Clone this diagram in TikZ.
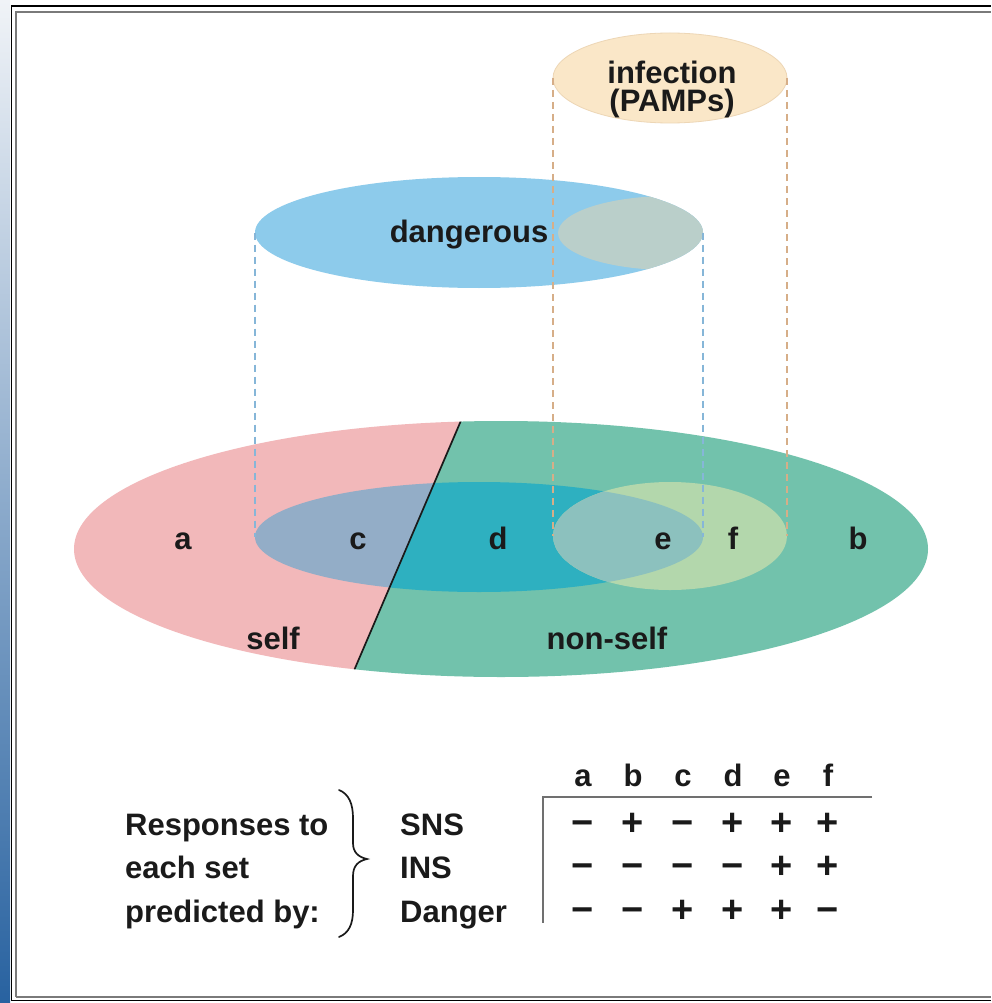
\documentclass[tikz,border=0pt]{standalone}
\usepackage{fontspec}
\setmainfont{Liberation Sans}

\definecolor{ink}{HTML}{1A1A1A}
\definecolor{bandtop}{HTML}{F0F3F7}
\definecolor{bandmid}{HTML}{B3C0D3}
\definecolor{bandbot}{HTML}{2862A0}
\definecolor{framegray}{HTML}{7A7A7A}
\definecolor{selfpink}{HTML}{F2B8BA}
\definecolor{nonselfgreen}{HTML}{72C2AC}
\definecolor{dangerself}{HTML}{93ADC7}
\definecolor{dangernonself}{HTML}{2EB0C0}
\definecolor{infectnonself}{HTML}{B3D7AC}
\definecolor{infectdanger}{HTML}{8CC1BE}
\definecolor{dangblue}{HTML}{8DCBEB}
\definecolor{dangover}{HTML}{BACFCA}
\definecolor{infectpeach}{HTML}{FAE7C8}
\definecolor{infectrim}{HTML}{EDD6B5}
\definecolor{dashblue}{HTML}{86B6D8}
\definecolor{dashtan}{HTML}{D6AE88}
\definecolor{rulegray}{HTML}{707070}

\begin{document}
\begin{tikzpicture}[x=1pt,y=-1pt,
  lbl/.style={font=\fontsize{31}{31}\selectfont\bfseries, text=ink, inner sep=0pt},
  sign/.style={font=\fontsize{38}{38}\selectfont\bfseries, text=ink, inner sep=0pt, anchor=base},
  projblue/.style={draw=dashblue, line width=2.3pt, dash pattern=on 7pt off 5pt},
  projtan/.style={draw=dashtan, line width=2.3pt, dash pattern=on 7pt off 5pt},
  tablerule/.style={draw=rulegray, line width=2pt},
  setellipse/.style={x radius=427, y radius=128}]
\useasboundingbox (0,0) rectangle (991,1003);
\fill[white] (0,0) rectangle (991,1003);

% page edge and frame
\shade[top color=bandtop, middle color=bandmid, bottom color=bandbot] (0,0) rectangle (10,1003);
\draw[black, line width=1.5pt] (11.5,1000.5) -- (11.5,6) -- (991,6);
\draw[black, line width=1.5pt] (11.5,1000.5) -- (991,1000.5);
\draw[framegray, line width=2pt] (16,997) -- (16,12.5) -- (991,12.5);
\draw[framegray, line width=2pt] (16,997) -- (991,997);

% self / non-self universe
\begin{scope}
  \clip (501,549) ellipse [setellipse];
  \fill[selfpink] (0,300) -- (512.6,300) -- (298.6,800) -- (0,800) -- cycle;
  \fill[nonselfgreen] (512.6,300) -- (1000,300) -- (1000,800) -- (298.6,800) -- cycle;
\end{scope}

% projection of the dangerous set
\begin{scope}
  \clip (479,537) ellipse [x radius=224, y radius=55];
  \fill[dangerself] (0,300) -- (512.6,300) -- (298.6,800) -- (0,800) -- cycle;
  \fill[dangernonself] (512.6,300) -- (1000,300) -- (1000,800) -- (298.6,800) -- cycle;
\end{scope}

% projection of the infection set
\fill[infectnonself] (670,536) ellipse [x radius=117, y radius=54];
\begin{scope}
  \clip (479,537) ellipse [x radius=224, y radius=55];
  \fill[infectdanger] (670,536) ellipse [x radius=117, y radius=54];
\end{scope}

% dividing line between self and non-self
\begin{scope}
  \clip (501,549) ellipse [setellipse];
  \draw[ink, line width=1.7pt] (512.6,300) -- (298.6,800);
\end{scope}

% dangerous set
\fill[dangblue] (479,232.5) ellipse [x radius=224, y radius=55.5];
\begin{scope}
  \clip (479,232.5) ellipse [x radius=224, y radius=55.5];
  \fill[dangover] (670,233) ellipse [x radius=112, y radius=37];
\end{scope}

% infection set
\fill[infectpeach, draw=infectrim, line width=0.8pt] (670,78) ellipse [x radius=117, y radius=45];

% anchor points of the projections
\coordinate (dangW) at (255,232.5);
\coordinate (dangE) at (703,232.5);
\coordinate (dsubW) at (255,537);
\coordinate (dsubE) at (703,537);
\coordinate (infW) at (553,78);
\coordinate (infE) at (787,78);
\coordinate (isubW) at (553,536);
\coordinate (isubE) at (787,536);

\draw[projblue] (dangW) -- (dsubW);
\draw[projblue] (dangE) -- (dsubE);
\draw[projtan] (infW) -- (isubW);
\draw[projtan] (infE) -- (isubE);

% set labels
\node[lbl, font=\fontsize{31}{28}\selectfont\bfseries, align=center] (infecttxt) at (672,89.5) {infection\\(PAMPs)};
\node[lbl, anchor=base] (dangtxt) at (469,242) {dangerous};
\node[lbl, anchor=base] (ra) at (183,549) {a};
\node[lbl, anchor=base] (rc) at (358,549) {c};
\node[lbl, anchor=base] (rd) at (498,549) {d};
\node[lbl, anchor=base] (re) at (663,549) {e};
\node[lbl, anchor=base] (rf) at (733,549) {f};
\node[lbl, anchor=base] (rb) at (858,549) {b};
\node[lbl, anchor=base] (selftxt) at (273,649) {self};
\node[lbl, anchor=base] (nonselftxt) at (607,649) {non-self};

% legend
\node[lbl, anchor=base west] (resp1) at (125,835) {Responses to};
\node[lbl, anchor=base west] (resp2) at (125,878) {each set};
\node[lbl, anchor=base west] (resp3) at (125,922) {predicted by:};
\coordinate (braceTop) at (339,790);
\coordinate (braceTip) at (367,859);
\coordinate (braceBot) at (339,937);
\draw[ink, line width=1.7pt, line cap=round]
  (braceTop) .. controls (349,794) and (353,804) .. (353,818)
  -- (353,843) .. controls (353,852) and (358,857) .. (braceTip)
  .. controls (358,861) and (353,866) .. (353,876)
  -- (353,910) .. controls (353,924) and (349,933) .. (braceBot);
\node[lbl, anchor=base west] (sns) at (400,835) {SNS};
\node[lbl, anchor=base west] (ins) at (400,878) {INS};
\node[lbl, anchor=base west] (danger) at (400,922) {Danger};

% table of predictions
\coordinate (ruleL) at (543,797);
\coordinate (ruleR) at (872,797);
\coordinate (ruleB) at (543,923);
\draw[tablerule] (ruleR) -- (ruleL) -- (ruleB);
\foreach \col/\x in {a/583, b/633, c/683, d/733, e/782, f/828}
  \node[lbl, anchor=base] (h\col) at (\x,786) {\col};
\foreach \col/\x/\s in {a/583/−, b/633/+, c/683/−, d/733/+, e/782/+, f/828/+}
  \node[sign] (sns\col) at (\x,835) {\s};
\foreach \col/\x/\s in {a/583/−, b/633/−, c/683/−, d/733/−, e/782/+, f/828/+}
  \node[sign] (ins\col) at (\x,878) {\s};
\foreach \col/\x/\s in {a/583/−, b/633/−, c/683/+, d/733/+, e/782/+, f/828/−}
  \node[sign] (dgr\col) at (\x,922) {\s};
\end{tikzpicture}
\end{document}
